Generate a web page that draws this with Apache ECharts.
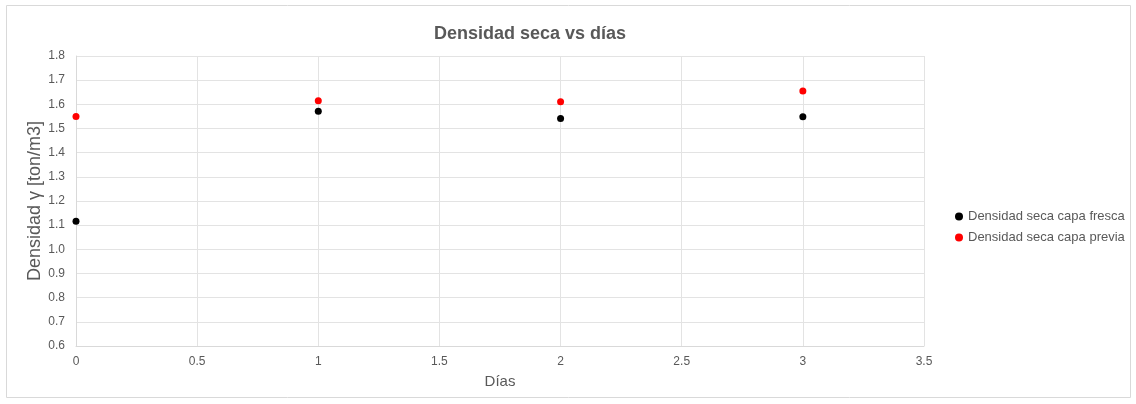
<!DOCTYPE html>
<html><head><meta charset="utf-8">
<script src="https://cdn.jsdelivr.net/npm/echarts@6/dist/echarts.min.js"></script>
<style>html,body{margin:0;padding:0;background:#fff}#c{width:1136px;height:404px}</style>
</head><body><div id="c"></div>
<script>
const days = [0, 1, 2, 3];
const fresca = [1.116, 1.571, 1.541, 1.549];
const previa = [1.550, 1.615, 1.611, 1.655];
const xTicks = [0, 0.5, 1, 1.5, 2, 2.5, 3, 3.5];
const seriesNames = ['Densidad seca capa fresca', 'Densidad seca capa previa'];

const font = 'Liberation Sans, Arial, sans-serif';
const chart = echarts.init(document.getElementById('c'));
chart.setOption({
  animation: false,
  graphic: [{type:'rect', shape:{x:6.5,y:5.5,width:1124,height:392}, style:{fill:'none', stroke:'#d9d9d9', lineWidth:1}, silent:true}],
  title: {text:'Densidad seca vs días', left:525, top:20, textAlign:'center',
    textStyle:{fontFamily:font, fontSize:18, fontWeight:'bold', color:'#595959'}},
  legend: {orient:'vertical', left:950, top:205, itemGap:8, itemWidth:8, itemHeight:8,
    textStyle:{fontFamily:font, fontSize:13, color:'#595959'},
    data: seriesNames.map(n=>({name:n, icon:'circle'}))},
  grid: {left:76, right:212, top:56, bottom:58},
  xAxis: {type:'value', min:0, max:3.5, interval:0.5, name:'Días', nameLocation:'middle', nameGap:28,
    nameTextStyle:{fontFamily:font, fontSize:15, color:'#595959'},
    axisLine:{show:true, lineStyle:{color:'#d9d9d9'}}, axisTick:{show:false},
    axisLabel:{fontFamily:font, fontSize:12, color:'#595959', margin:10, formatter:v=>String(v)},
    splitLine:{show:true, lineStyle:{color:'#e3e3e3'}}},
  yAxis: {type:'value', min:0.6, max:1.8, interval:0.1, name:'Densidad γ [ton/m3]', nameLocation:'middle', nameGap:32, nameMoveOverlap:false,
    nameTextStyle:{fontFamily:font, fontSize:18, color:'#595959'},
    axisLine:{show:true, lineStyle:{color:'#d9d9d9'}}, axisTick:{show:false},
    axisLabel:{fontFamily:font, fontSize:12, color:'#595959', margin:11, formatter:v=>v.toFixed(1)},
    splitLine:{show:true, lineStyle:{color:'#e3e3e3'}}},
  series: [
    {name:seriesNames[0], type:'scatter', symbolSize:7, itemStyle:{color:'#000000', opacity:1}, data: days.map((d,i)=>[d,fresca[i]])},
    {name:seriesNames[1], type:'scatter', symbolSize:7, itemStyle:{color:'#ff0000', opacity:1}, data: days.map((d,i)=>[d,previa[i]])}
  ]
});
</script></body></html>
